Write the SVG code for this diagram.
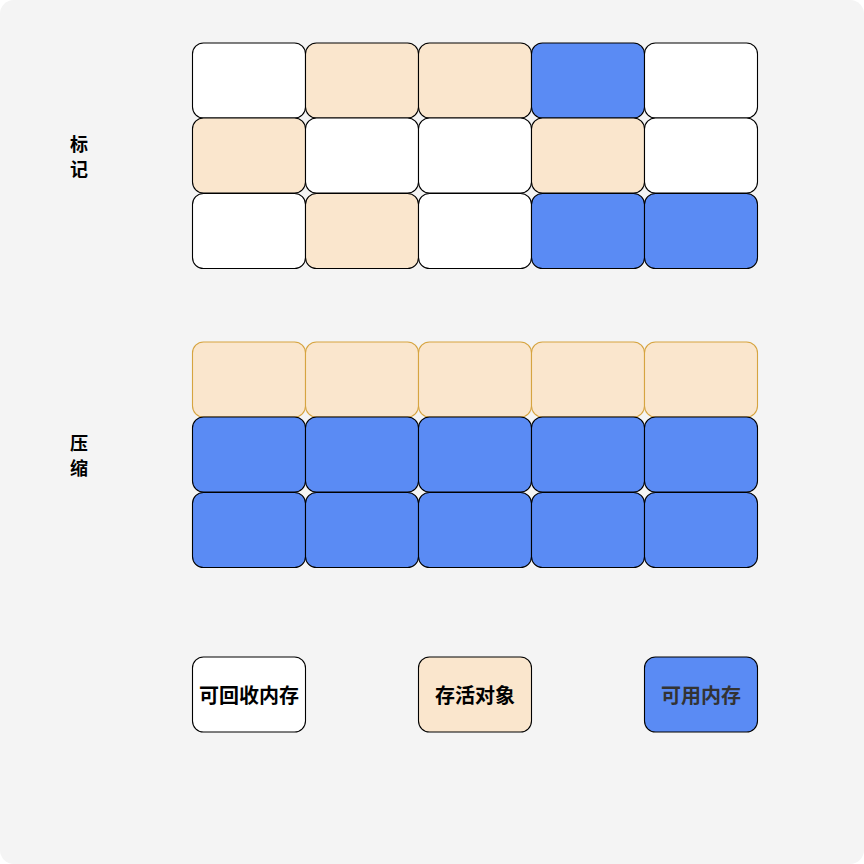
<svg xmlns="http://www.w3.org/2000/svg" width="864" height="864" viewBox="0 0 864 864">
<style>
.c{stroke:#000;stroke-width:1.1}
.w{fill:#ffffff}
.p{fill:#fae6cd}
.b{fill:#5a8bf4}
.po{fill:#fae6cd;stroke:#d6a440;stroke-width:1.1}
.t{font-family:"Noto Sans CJK SC","Noto Sans",sans-serif;font-size:18px;font-weight:bold;fill:#000;text-anchor:middle;dominant-baseline:central}
.lg{font-size:20px}
</style>
<defs>
<rect id="cell" width="113" height="75" rx="11" ry="11"/>
</defs>
<rect x="0" y="0" width="864" height="864" rx="14" ry="14" fill="#f4f4f4"/>
<g id="label-mark">
<text class="t" x="79" y="142.5">标</text>
<text class="t" x="79" y="167.5">记</text>
</g>
<g id="label-compact">
<text class="t" x="79" y="441.5">压</text>
<text class="t" x="79" y="466.5">缩</text>
</g>
<g id="mark-grid">
<use href="#cell" x="192.5" y="43" class="c w"/>
<use href="#cell" x="305.5" y="43" class="c p"/>
<use href="#cell" x="418.5" y="43" class="c p"/>
<use href="#cell" x="531.5" y="43" class="c b"/>
<use href="#cell" x="644.5" y="43" class="c w"/>
<use href="#cell" x="192.5" y="118" class="c p"/>
<use href="#cell" x="305.5" y="118" class="c w"/>
<use href="#cell" x="418.5" y="118" class="c w"/>
<use href="#cell" x="531.5" y="118" class="c p"/>
<use href="#cell" x="644.5" y="118" class="c w"/>
<use href="#cell" x="192.5" y="193.5" class="c w"/>
<use href="#cell" x="305.5" y="193.5" class="c p"/>
<use href="#cell" x="418.5" y="193.5" class="c w"/>
<use href="#cell" x="531.5" y="193.5" class="c b"/>
<use href="#cell" x="644.5" y="193.5" class="c b"/>
</g>
<g id="compact-grid">
<use href="#cell" x="192.5" y="342" class="po"/>
<use href="#cell" x="305.5" y="342" class="po"/>
<use href="#cell" x="418.5" y="342" class="po"/>
<use href="#cell" x="531.5" y="342" class="po"/>
<use href="#cell" x="644.5" y="342" class="po"/>
<use href="#cell" x="192.5" y="417" class="c b"/>
<use href="#cell" x="305.5" y="417" class="c b"/>
<use href="#cell" x="418.5" y="417" class="c b"/>
<use href="#cell" x="531.5" y="417" class="c b"/>
<use href="#cell" x="644.5" y="417" class="c b"/>
<use href="#cell" x="192.5" y="492.5" class="c b"/>
<use href="#cell" x="305.5" y="492.5" class="c b"/>
<use href="#cell" x="418.5" y="492.5" class="c b"/>
<use href="#cell" x="531.5" y="492.5" class="c b"/>
<use href="#cell" x="644.5" y="492.5" class="c b"/>
</g>
<g id="legend-reclaimable">
<use href="#cell" x="192.5" y="657" class="c w"/>
<text class="t lg" x="249" y="694.5">可回收内存</text>
</g>
<g id="legend-live">
<use href="#cell" x="418.5" y="657" class="c p"/>
<text class="t lg" x="475" y="694.5">存活对象</text>
</g>
<g id="legend-free">
<use href="#cell" x="644.5" y="657" class="c b"/>
<text class="t lg" x="701" y="694.5" style="fill:#333333">可用内存</text>
</g>
<g id="connectors"/>
</svg>
